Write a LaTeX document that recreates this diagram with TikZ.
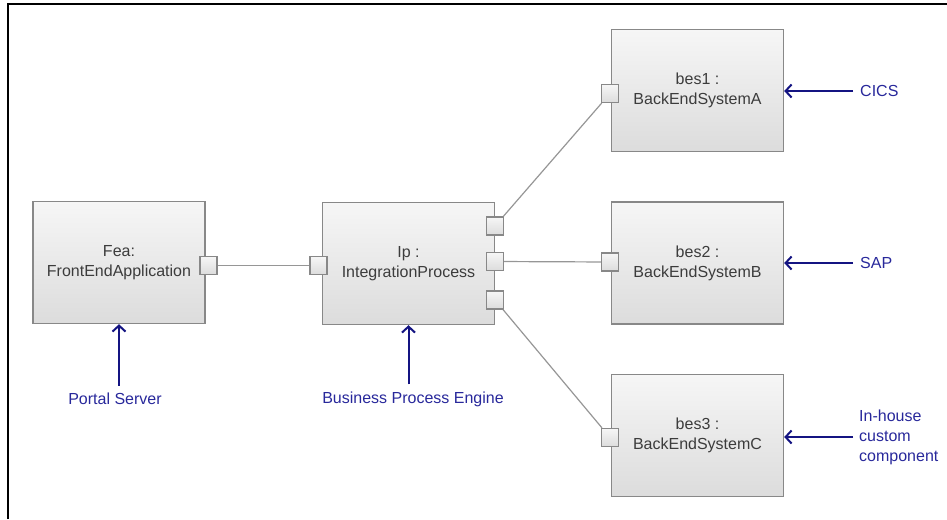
\documentclass[tikz,border=0pt]{standalone}
\usepackage{fontspec}
\setmainfont{Liberation Sans}
\usepackage{tikz}
\usetikzlibrary{arrows.meta}

\definecolor{boxline}{RGB}{136,136,136}
\definecolor{boxtop}{RGB}{246,246,246}
\definecolor{boxbot}{RGB}{220,220,220}
\definecolor{boxtext}{RGB}{60,60,60}
\definecolor{linkgray}{RGB}{150,150,150}
\definecolor{feedblue}{RGB}{20,20,130}
\definecolor{lblblue}{RGB}{40,40,155}
\newcommand{\boxfont}{\fontsize{16}{20}\selectfont}

\begin{document}
\begin{tikzpicture}[x=1pt, y=-1pt,
    comp/.style={rectangle, draw=boxline, line width=1.4pt, top color=boxtop, bottom color=boxbot, minimum width=172pt, minimum height=122pt, align=center, font=\boxfont, text=boxtext},
    port/.style={rectangle, draw=boxline, line width=1.3pt, top color=boxtop, bottom color=boxbot, minimum width=17pt, minimum height=18pt, inner sep=0pt},
    link/.style={draw=linkgray, line width=1.2pt},
    feed/.style={draw=feedblue, line width=2pt, -{Straight Barb[length=6pt, width=13pt]}},
    lbl/.style={text=lblblue, font=\boxfont, align=left, inner sep=7pt}
]
\useasboundingbox (0,0) rectangle (947,519);
\draw[line width=2pt] (8,519) -- (8,4) -- (947,4);

\node[comp] (fea) at (119,262.5) {Fea:\\FrontEndApplication};
\node[comp] (ip) at (408.5,263.5) {Ip :\\IntegrationProcess};
\node[comp] (bes1) at (697.5,90.5) {bes1 :\\BackEndSystemA};
\node[comp] (bes2) at (697.5,263) {bes2 :\\BackEndSystemB};
\node[comp] (bes3) at (697.5,435.5) {bes3 :\\BackEndSystemC};

% ports on the component edges
\node[port] (feaP) at (208.5,265.5) {};
\node[port] (ipIn) at (318.5,265.5) {};
\node[port] (ipA) at (495,226) {};
\node[port] (ipB) at (495,261.5) {};
\node[port] (ipC) at (495,300) {};
\node[port] (bes1P) at (610,93.5) {};
\node[port] (bes2P) at (610,262) {};
\node[port] (bes3P) at (610,437.5) {};

\draw[link] (feaP) -- (ipIn);
\draw[link] (ipA) -- (bes1P);
\draw[link] (ipB) -- (bes2P);
\draw[link] (ipC) -- (bes3P);

% platform labels
\node[lbl] (portal) at (115,399) {Portal Server};
\node[lbl] (bpe) at (413,399) {Business Process Engine};
\node[lbl, anchor=west] (cics) at (853,91) {CICS};
\node[lbl, anchor=west] (sap) at (853,263) {SAP};
\node[lbl, anchor=west, inner sep=6pt] (inhouse) at (853,437) {In-house\\custom\\component};

\draw[feed] (portal.north -| fea.south) -- (fea.south);
\draw[feed] (bpe.north -| ip.south) -- (ip.south);
\draw[feed] (cics.west) -- (bes1.east |- cics.west);
\draw[feed] (sap.west) -- (bes2.east |- sap.west);
\draw[feed] (inhouse.west) -- (bes3.east |- inhouse.west);
\end{tikzpicture}
\end{document}
